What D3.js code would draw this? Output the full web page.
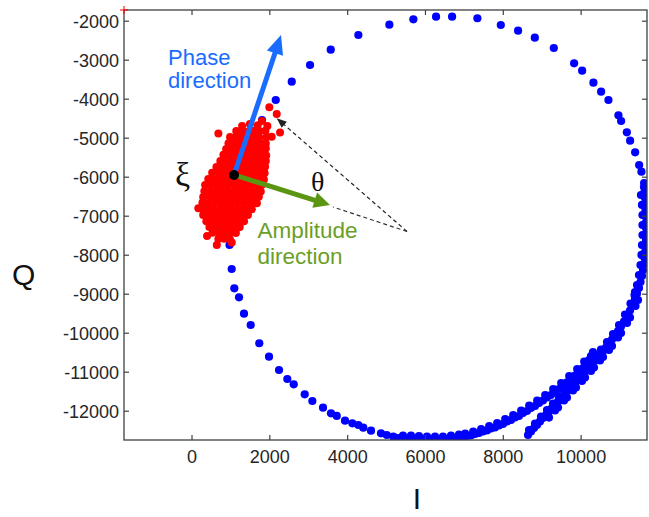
<!DOCTYPE html>
<html>
<head>
<meta charset="utf-8">
<script src="https://cdn.jsdelivr.net/npm/d3@7"></script>
<style>
body { margin: 0; background: #fff; }
svg { font-family: "Liberation Sans", Arial, sans-serif; }
</style>
</head>
<body>
<svg width="649" height="517"></svg>
<script>
// axis ticks
var iTicks = [0, 2000, 4000, 6000, 8000, 10000];
var qTicks = [-2000, -3000, -4000, -5000, -6000, -7000, -8000, -9000, -10000, -11000, -12000];

// blue trajectory, sparse upper part (left of cloud, over the top, down the right)
var ringTop = [[2165,-4033],[2576,-3564],[3046,-3136],[3578,-2744],[4288,-2367],[5085,-2103],[5702,-1964],
  [6285,-1897],[6697,-1897],[7347,-1938],[7949,-2110],[8393,-2256],[8823,-2436],[9311,-2700],[9833,-3092],
  [10039,-3282],[10329,-3590],[10527,-3821],[10715,-4033],[10972,-4426],[11041,-4572],[11188,-4862],
  [11272,-5077],[11401,-5374],[11504,-5700],[11563,-5872],[11632,-6162]];

// blue trajectory, left side (some hidden under the red cloud) and lower left
var ringLeft = [[1812,-4546],[1555,-5110],[1350,-5725],[1195,-6392],[1067,-7059],[977,-7751],[1033,-8366],
  [1100,-8861],[1221,-9092],[1349,-9512],[1521,-9802],[1742,-10271],[1992,-10615],[2249,-10956],[2462,-11187],
  [2627,-11323],[2909,-11579],[3105,-11751],[3380,-11923],[3585,-12066],[3732,-12135],[3945,-12256],
  [4133,-12323],[4287,-12366],[4415,-12435],[4613,-12512],[4870,-12579],[5017,-12623],[5186,-12666],[5307,-12700]];

// dense band along the bottom, ending inside at about (10300,-10500)
var bandA = [[5435,-12712],[5538,-12738],[5641,-12712],[5744,-12751],[5846,-12725],[5949,-12764],[6052,-12738],
  [6155,-12764],[6258,-12738],[6360,-12764],[6463,-12738],[6566,-12751],[6669,-12712],[6772,-12725],[6874,-12687],
  [6977,-12687],[7080,-12648],[7183,-12636],[7286,-12597],[7388,-12571],[7491,-12533],[7594,-12507],[7697,-12456],
  [7800,-12430],[7902,-12379],[8005,-12341],[8108,-12276],[8211,-12238],[8314,-12174],[8416,-12136],[8519,-12059],
  [8622,-12008],[8725,-11930],[8828,-11879],[8930,-11802],[9033,-11738],[9136,-11661],[9239,-11597],[9342,-11507],
  [9444,-11443],[9547,-11353],[9650,-11276],[9753,-11174],[9856,-11097],[9958,-10994],[10061,-10905],
  [10138,-10802],[10215,-10700],[10267,-10597],[10318,-10495],
  [5435,-12635],[5641,-12635],[5846,-12648],[6052,-12661],[6258,-12661],[6463,-12661],[6669,-12635],
  [6874,-12610],[7034,-12586],[7240,-12535],[7445,-12471],[7651,-12394],[7856,-12317],[8062,-12214],
  [8268,-12112],[8473,-11997],[8679,-11868],[8884,-11740],[9090,-11599],[9296,-11445],[9501,-11291],
  [9707,-11112],[9912,-10932],[10092,-10740]];

// dense band starting at about (8650,-12620) and running up the right side
var bandB = [[8648,-12623],[8725,-12533],[8802,-12443],[8879,-12366],[8956,-12276],[9033,-12187],[9110,-12110],
  [9187,-12020],[9264,-11930],[9342,-11854],[9419,-11764],[9496,-11674],[9573,-11597],[9650,-11507],[9727,-11417],
  [9804,-11341],[9881,-11251],[9958,-11174],[10035,-11084],[10113,-10994],[10190,-10918],[10267,-10828],
  [10344,-10738],[10421,-10648],[10498,-10559],[10575,-10469],[10652,-10379],[10729,-10276],[10806,-10174],
  [10884,-10072],[10961,-9956],[11038,-9841],[11115,-9713],[11192,-9572],[11269,-9431],[11333,-9290],
  [11398,-9136],[11449,-8995],[11500,-8854],[11539,-8700],[11577,-8546],[11603,-8392],[11629,-8238],
  [11642,-8085],[11655,-7931],[11667,-7777],[11680,-7623],[11680,-7469],[11680,-7315],[11680,-7161],
  [11680,-7007],[11667,-6854],[11667,-6700],[11655,-6546],[11642,-6392],[11629,-6264],
  [9187,-12175],[9419,-11918],[9650,-11661],[9881,-11405],[10113,-11148],[10344,-10892],[10575,-10623],
  [10806,-10341],[11038,-10007],[11269,-9610],[11475,-9161],
  [9342,-11994],[9573,-11738],[9804,-11482],[10035,-11238],[10267,-10982],[10498,-10712],[10729,-10443],
  [10961,-10123],[11192,-9751],[11410,-9315],
  [8674,-12495],[8828,-12328],[8982,-12149],[9136,-11982],[9291,-11816],[9445,-11636],[9599,-11469],
  [9753,-11303],[9907,-11136],[10062,-10956],[10216,-10790],[10370,-10610],[10524,-10431],[10678,-10238],
  [10833,-10034],[10987,-9803],[11141,-9534],[11282,-9252],[11398,-8957],
  [11551,-6469],[11577,-6725],[11590,-6982],[11590,-7238],[11590,-7495],[11577,-7751],[11564,-8007],
  [11539,-8264],[11500,-8520],[11449,-8777],[11385,-9033]];

// red noise cloud around xi
var redCloud = [
  [1150,-4830],[1300,-4815],[1450,-4840],[1600,-4825],[1750,-4835],[1900,-4820],
  [990,-4980],[1140,-4990],[1290,-4970],[1440,-4985],[1590,-4975],[1740,-4990],[1930,-4980],
  [950,-5140],[1100,-5130],[1250,-5150],[1400,-5135],[1550,-5145],[1700,-5130],[1850,-5140],[1910,-5150],
  [890,-5290],[1030,-5300],[1180,-5280],[1330,-5295],[1480,-5285],[1630,-5300],[1780,-5290],[1910,-5280],
  [820,-5440],[970,-5450],[1120,-5430],[1270,-5445],[1420,-5435],[1570,-5450],[1720,-5440],[1870,-5430],[1920,-5455],
  [740,-5600],[890,-5590],[1040,-5610],[1190,-5595],[1340,-5605],[1490,-5590],[1640,-5610],[1790,-5600],[1910,-5595],
  [640,-5750],[790,-5760],[940,-5740],[1090,-5755],[1240,-5745],[1390,-5760],[1540,-5750],[1690,-5740],[1840,-5755],[1890,-5745],
  [530,-5900],[680,-5890],[830,-5910],[980,-5895],[1130,-5905],[1280,-5890],[1430,-5910],[1580,-5900],[1730,-5890],[1880,-5905],
  [430,-6060],[580,-6070],[730,-6050],[880,-6065],[1030,-6055],[1180,-6070],[1330,-6060],[1480,-6050],[1630,-6065],[1780,-6055],[1860,-6070],
  [350,-6210],[500,-6200],[650,-6220],[800,-6205],[950,-6215],[1100,-6200],[1250,-6220],[1400,-6210],[1550,-6200],[1700,-6215],[1810,-6205],
  [330,-6370],[480,-6380],[630,-6360],[780,-6375],[930,-6365],[1080,-6380],[1230,-6370],[1380,-6360],[1530,-6375],[1680,-6365],[1780,-6380],
  [300,-6520],[450,-6510],[600,-6530],[750,-6515],[900,-6525],[1050,-6510],[1200,-6530],[1350,-6520],[1500,-6510],[1650,-6525],[1730,-6515],
  [280,-6670],[430,-6680],[580,-6660],[730,-6675],[880,-6665],[1030,-6680],[1180,-6670],[1330,-6660],[1480,-6675],[1620,-6665],[1680,-6680],
  [280,-6830],[420,-6820],[570,-6840],[720,-6825],[870,-6835],[1020,-6820],[1170,-6840],[1320,-6830],[1460,-6820],[1550,-6835],
  [300,-6980],[450,-6990],[600,-6970],[750,-6985],[900,-6975],[1050,-6990],[1200,-6980],[1350,-6970],[1450,-6985],
  [380,-7140],[530,-7130],[680,-7150],[830,-7135],[980,-7145],[1130,-7130],[1280,-7150],[1350,-7140],
  [460,-7290],[610,-7300],[760,-7280],[910,-7295],[1060,-7285],[1200,-7300],[1240,-7290],
  [540,-7440],[690,-7430],[840,-7450],[990,-7435],[1140,-7445],
  [690,-7600],[840,-7590],[990,-7610],
  [2000,-4220],[2190,-4390],[2275,-4870],[2060,-4975],[1810,-4570],[690,-4890],[650,-7750],[1035,-7690],
  [175,-6810],[400,-7520],[1500,-4650],[1300,-4700],[1700,-4680],[1950,-4700]];

// annotation anchors (data units)
var xi = [1093, -5956];
var phaseTip = [2300, -2370];
var ampTip = [3559, -6725];
var apex = [5538, -7405];
var dashEnds = [[2190, -4502], [3636, -6777]];

var svg = d3.select("svg"),
    margin = {top: 10, right: 2, bottom: 77, left: 124},
    width = svg.attr("width") - margin.left - margin.right,
    height = svg.attr("height") - margin.top - margin.bottom,
    g = svg.append("g").attr("transform", "translate(" + margin.left + "," + margin.top + ")");

var x = d3.scaleLinear().domain([-1735, 11706]).range([0, width]),
    y = d3.scaleLinear().domain([-12751, -1726]).range([height, 0]);

svg.append("defs").append("clipPath").attr("id", "plot")
    .append("rect").attr("width", width).attr("height", height);

var dots = g.append("g").attr("clip-path", "url(#plot)");

// blue trajectory
dots.selectAll(".blue")
    .data(ringTop.concat(ringLeft, bandA, bandB))
    .enter().append("circle")
    .attr("class", "blue")
    .attr("cx", function (d) { return x(d[0]); })
    .attr("cy", function (d) { return y(d[1]); })
    .attr("r", 4.1)
    .attr("fill", "#0000ff");

// red noise samples
dots.selectAll(".red")
    .data(redCloud)
    .enter().append("circle")
    .attr("class", "red")
    .attr("cx", function (d) { return x(d[0]); })
    .attr("cy", function (d) { return y(d[1]); })
    .attr("r", 4)
    .attr("fill", "#ff0000");

// axes, ticks inward on all four sides
var ink = "#404040";
function styleAxis(sel) {
    sel.select(".domain").remove();
    sel.selectAll("line").attr("stroke", ink).attr("stroke-width", 1.2);
    sel.selectAll("text").attr("fill", "#262626").style("font-size", "18px");
}

g.append("g").attr("transform", "translate(0," + height + ")")
    .call(d3.axisBottom(x).tickValues(iTicks).tickSize(-5).tickPadding(10).tickFormat(d3.format("d")))
    .attr("font-family", null)
    .call(styleAxis);
g.append("g")
    .call(d3.axisTop(x).tickValues(iTicks).tickSize(-5).tickFormat(""))
    .call(styleAxis);
g.append("g")
    .call(d3.axisLeft(y).tickValues(qTicks).tickSize(-5).tickPadding(5).tickFormat(function (d) { return String(d); }))
    .attr("font-family", null)
    .call(styleAxis)
    .selectAll("text").attr("dy", "0.36em");
g.append("g").attr("transform", "translate(" + width + ",0)")
    .call(d3.axisRight(y).tickValues(qTicks).tickSize(-5).tickFormat(""))
    .call(styleAxis);

g.append("rect")
    .attr("width", width).attr("height", height)
    .attr("fill", "none").attr("stroke", ink).attr("stroke-width", 1.3);

// small red plus at the top left corner
g.append("path")
    .attr("d", "M" + (x(-1735) - 4) + "," + y(-1726) + "h8M" + x(-1735) + "," + (y(-1726) - 4) + "v8")
    .attr("stroke", "#ff0000").attr("stroke-width", 1);

// arrows
function arrow(from, to, color, w, headLen, headHalf, dash) {
    var x0 = x(from[0]), y0 = y(from[1]), x1 = x(to[0]), y1 = y(to[1]);
    var dx = x1 - x0, dy = y1 - y0, L = Math.sqrt(dx * dx + dy * dy);
    var ux = dx / L, uy = dy / L;
    var bx = x1 - ux * headLen, by = y1 - uy * headLen;
    g.append("line")
        .attr("x1", x0).attr("y1", y0).attr("x2", bx + ux * 2).attr("y2", by + uy * 2)
        .attr("stroke", color).attr("stroke-width", w)
        .attr("stroke-dasharray", dash || null);
    g.append("path")
        .attr("d", "M" + x1 + "," + y1 +
            "L" + (bx - uy * headHalf) + "," + (by + ux * headHalf) +
            "L" + (bx + uy * headHalf) + "," + (by - ux * headHalf) + "Z")
        .attr("fill", color);
}

// dashed construction lines for theta
g.append("line")
    .attr("x1", x(apex[0])).attr("y1", y(apex[1]))
    .attr("x2", x(dashEnds[1][0])).attr("y2", y(dashEnds[1][1]))
    .attr("stroke", "#333").attr("stroke-width", 1.2).attr("stroke-dasharray", "4,3");
arrow(apex, dashEnds[0], "#222", 1.2, 10, 4, "4,3");

arrow(xi, phaseTip, "#1a6cff", 5, 19, 8.5);
arrow(xi, ampTip, "#5a9612", 5, 16, 8);

g.append("circle")
    .attr("cx", x(xi[0])).attr("cy", y(xi[1]))
    .attr("r", 5).attr("fill", "#000");

// labels
svg.append("text").attr("x", 168).attr("y", 65)
    .attr("fill", "#1a6cff").style("font-size", "22px").text("Phase");
svg.append("text").attr("x", 168).attr("y", 88)
    .attr("fill", "#1a6cff").style("font-size", "22px").text("direction");
svg.append("text").attr("x", 257.5).attr("y", 238)
    .attr("fill", "#6b9e24").style("font-size", "22.5px").text("Amplitude");
svg.append("text").attr("x", 257.5).attr("y", 264)
    .attr("fill", "#6b9e24").style("font-size", "22.5px").text("direction");

svg.append("text").attr("x", 175).attr("y", 186)
    .style("font-family", "'Liberation Serif', 'DejaVu Serif', serif").style("font-size", "34px")
    .attr("fill", "#111").text("ξ");
svg.append("text").attr("x", 311).attr("y", 191)
    .style("font-family", "'Liberation Serif', 'DejaVu Serif', serif").style("font-size", "28px")
    .attr("fill", "#111").text("θ");

svg.append("text").attr("x", 12).attr("y", 285)
    .style("font-size", "30px").attr("fill", "#111").text("Q");
svg.append("text").attr("x", 417).attr("y", 509).attr("text-anchor", "middle")
    .style("font-size", "30px").attr("fill", "#111").text("I");
</script>
</body>
</html>
